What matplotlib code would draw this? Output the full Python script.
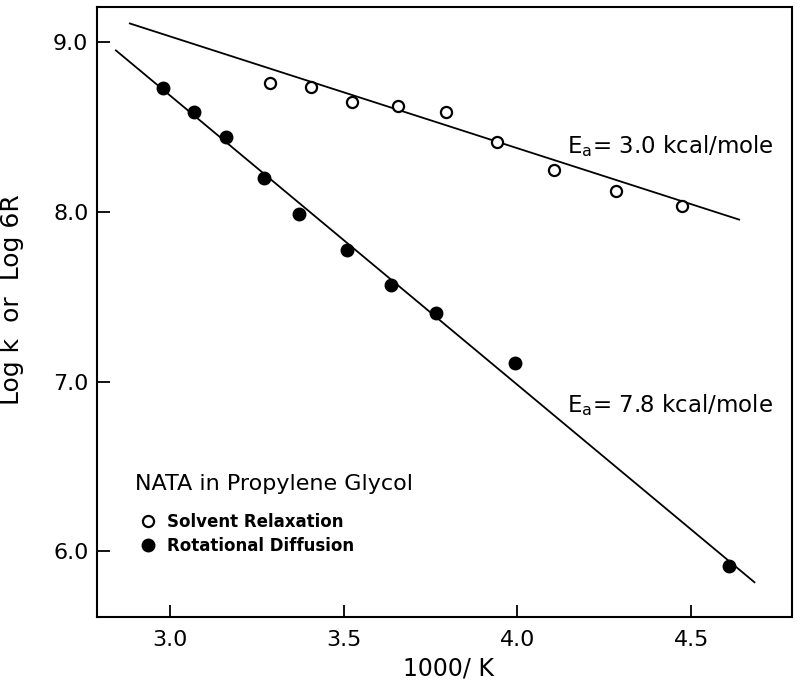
import matplotlib
matplotlib.use("Agg")
import matplotlib.pyplot as plt

# solvent relaxation (open circles)
solv_x = [3.288, 3.406, 3.524, 3.656, 3.795, 3.942, 4.106, 4.284, 4.474]
solv_y = [8.758, 8.740, 8.646, 8.628, 8.592, 8.415, 8.249, 8.125, 8.036]

# rotational diffusion (filled circles)
rot_x = [2.980, 3.069, 3.161, 3.271, 3.371, 3.510, 3.636, 3.766, 3.993, 4.610]
rot_y = [8.734, 8.587, 8.445, 8.203, 7.990, 7.777, 7.571, 7.405, 7.110, 5.911]

# fitted Arrhenius lines (end points)
solv_fit_x = [2.885, 4.638]
solv_fit_y = [9.112, 7.955]
rot_fit_x = [2.845, 4.682]
rot_fit_y = [8.953, 5.816]

xticks = [3.0, 3.5, 4.0, 4.5]
yticks = [6.0, 7.0, 8.0, 9.0]

plt.rcParams['font.family'] = ['DejaVu Sans']

fig = plt.figure(figsize=(8, 6.85), dpi=100)
ax = fig.add_axes([0.121, 0.099, 0.869, 0.891])

ax.plot(solv_fit_x, solv_fit_y, color='black', lw=1.3)
ax.plot(rot_fit_x, rot_fit_y, color='black', lw=1.3)
ax.plot(solv_x, solv_y, 'o', mfc='white', mec='black', mew=1.6, ms=8,
        label='Solvent Relaxation')
ax.plot(rot_x, rot_y, 'o', color='black', ms=9, label='Rotational Diffusion')

ax.text(4.143, 8.386, r'E$_\mathrm{a}$= 3.0 kcal/mole', fontsize=16.5, va='center')
ax.text(4.143, 6.862, r'E$_\mathrm{a}$= 7.8 kcal/mole', fontsize=16.5, va='center')

ax.text(0.055, 0.219, 'NATA in Propylene Glycol', transform=ax.transAxes,
        fontsize=16, va='center')
leg = ax.legend(loc='upper left', bbox_to_anchor=(0.047, 0.19), frameon=False,
                handlelength=0.8, handletextpad=0.75,
                labelspacing=0.35, borderpad=0.2,
                prop={'weight': 'bold', 'size': 12})

ax.set_xlim(2.79, 4.79)
ax.set_ylim(5.61, 9.21)
ax.set_xticks(xticks)
ax.set_yticks(yticks)
ax.set_xticklabels([f'{v:.1f}' for v in xticks])
ax.set_yticklabels([f'{v:.1f}' for v in yticks])
ax.tick_params(direction='in', length=9, width=1.3, labelsize=16)
ax.tick_params(axis='x', pad=9)
ax.tick_params(axis='y', pad=6)
for s in ax.spines.values():
    s.set_linewidth(1.5)

ax.set_xlabel('1000/ K', fontsize=17)
ax.set_ylabel('Log k  or  Log 6R', fontsize=18)
ax.xaxis.set_label_coords(0.506, -0.064)
ax.yaxis.set_label_coords(-0.104, 0.52)

fig.savefig('out.png', dpi=100)
